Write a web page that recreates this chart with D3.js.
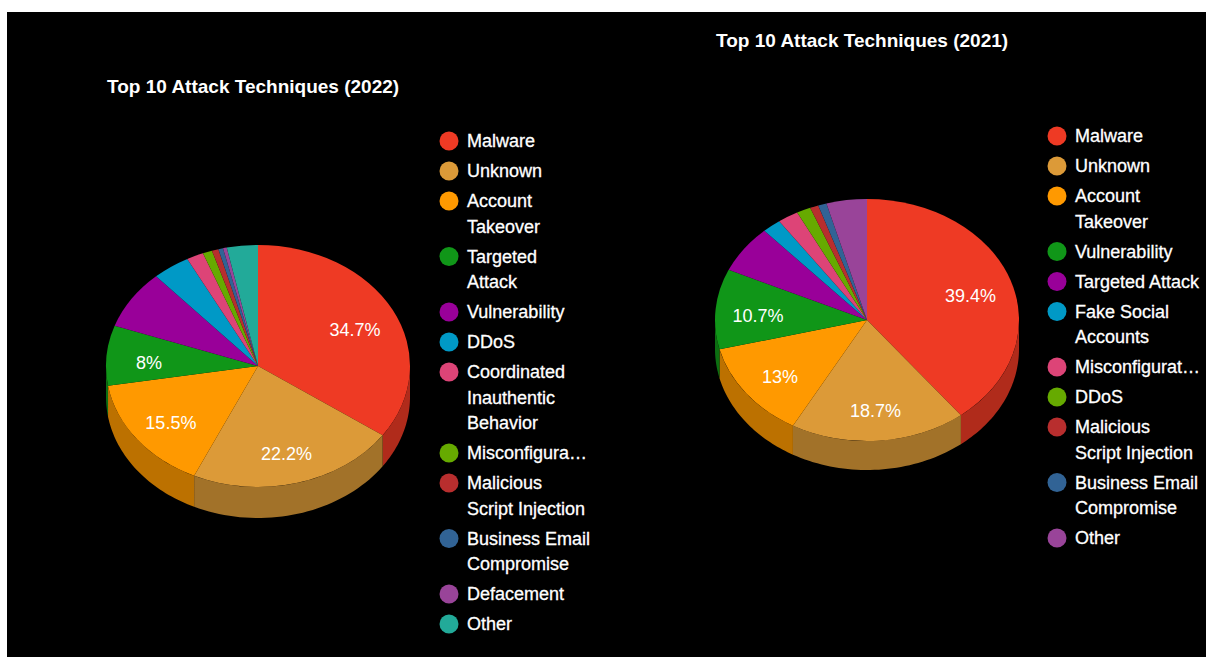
<!DOCTYPE html>
<html>
<head>
<meta charset="utf-8">
<script src="https://cdn.jsdelivr.net/npm/d3@7"></script>
<style>
  body { margin: 0; background: #fff; }
  svg { display: block; }
  text { font-family: "Liberation Sans", Arial, sans-serif; }
</style>
</head>
<body>
<div id="chart"></div>
<script>
// 2022 data
var cats2022 = ["Malware", "Unknown", "Account Takeover", "Targeted Attack", "Vulnerability", "DDoS",
  "Coordinated Inauthentic Behavior", "Misconfiguration", "Malicious Script Injection",
  "Business Email Compromise", "Defacement", "Other"];
var vals2022 = [34.7, 22.2, 15.5, 8, 7.9, 4.0, 1.8, 1.0, 0.7, 0.5, 0.4, 3.3];
var legend2022 = [["Malware"], ["Unknown"], ["Account", "Takeover"], ["Targeted", "Attack"], ["Vulnerability"],
  ["DDoS"], ["Coordinated", "Inauthentic", "Behavior"], ["Misconfigura\u2026"], ["Malicious", "Script Injection"],
  ["Business Email", "Compromise"], ["Defacement"], ["Other"]];
var colors2022 = ["#ee3a24", "#dc9a38", "#ff9900", "#109618", "#990099", "#0099c6", "#dd4477",
  "#66aa00", "#b82e2e", "#316395", "#994499", "#22aa99"];

// 2021 data
var cats2021 = ["Malware", "Unknown", "Account Takeover", "Vulnerability", "Targeted Attack",
  "Fake Social Accounts", "Misconfiguration", "DDoS", "Malicious Script Injection",
  "Business Email Compromise", "Other"];
var vals2021 = [39.4, 18.7, 13, 10.7, 6.4, 2.0, 2.2, 1.5, 0.9, 0.9, 4.3];
var legend2021 = [["Malware"], ["Unknown"], ["Account", "Takeover"], ["Vulnerability"], ["Targeted Attack"],
  ["Fake Social", "Accounts"], ["Misconfigurat\u2026"], ["DDoS"], ["Malicious", "Script Injection"],
  ["Business Email", "Compromise"], ["Other"]];
var colors2021 = ["#ee3a24", "#dc9a38", "#ff9900", "#109618", "#990099", "#0099c6", "#dd4477",
  "#66aa00", "#b82e2e", "#316395", "#994499"];

var W = 1206, H = 657;
var svg = d3.select("#chart").append("svg").attr("width", W).attr("height", H);

// black panel with white strip at top / left
svg.append("rect").attr("x", 7).attr("y", 12).attr("width", W - 7).attr("height", H - 12).attr("fill", "#000");

function drawPie(cfg) {
  var g = svg.append("g");
  var cx = cfg.cx, cy = cfg.cy, rx = cfg.rx, ry = cfg.ry, depth = cfg.depth;
  var data = cfg.cats.map(function (c, i) { return { name: c, value: cfg.vals[i], color: cfg.colors[i] }; });
  var arcs = d3.pie().sort(null).value(function (d) { return d.value; })(data);

  var px = function (a) { return cx + rx * Math.sin(a); };
  var py = function (a) { return cy - ry * Math.cos(a); };

  // side walls (front half only: pi/2 .. 3pi/2)
  arcs.forEach(function (a) {
    var a0 = Math.max(a.startAngle, Math.PI / 2), a1 = Math.min(a.endAngle, 3 * Math.PI / 2);
    if (a1 <= a0) return;
    var p = d3.path();
    p.moveTo(px(a0), py(a0));
    var n = 40;
    for (var k = 1; k <= n; k++) { var t = a0 + (a1 - a0) * k / n; p.lineTo(px(t), py(t)); }
    for (var k = n; k >= 0; k--) { var t = a0 + (a1 - a0) * k / n; p.lineTo(px(t), py(t) + depth); }
    p.closePath();
    g.append("path").attr("d", p.toString())
      .attr("fill", d3.color(a.data.color).darker(0.85));
  });

  // top faces
  var arc = d3.arc().innerRadius(0).outerRadius(rx);
  g.append("g")
    .attr("transform", "translate(" + cx + "," + cy + ") scale(1," + (ry / rx) + ")")
    .selectAll("path").data(arcs).enter().append("path")
    .attr("d", arc)
    .attr("fill", function (d) { return d.data.color; });

  // slice labels (only slices big enough)
  g.selectAll("text.lbl").data(arcs.filter(function (d) { return d.data.value >= 8; }))
    .enter().append("text")
    .attr("class", "lbl")
    .attr("x", function (d) { var m = (d.startAngle + d.endAngle) / 2; return cx + rx * 0.72 * Math.sin(m); })
    .attr("y", function (d) { var m = (d.startAngle + d.endAngle) / 2; return cy - ry * 0.72 * Math.cos(m) + 4; })
    .attr("dy", "0.35em")
    .attr("text-anchor", "middle")
    .attr("font-size", "18px")
    .attr("fill", "#fff")
    .text(function (d) { return d.data.value + "%"; });

  // title
  svg.append("text")
    .attr("x", cfg.titleX).attr("y", cfg.titleY)
    .attr("font-size", "19px").attr("font-weight", "bold").attr("fill", "#fff")
    .text(cfg.title);

  // legend
  var y = cfg.legY;
  cfg.legend.forEach(function (lines, i) {
    svg.append("circle").attr("cx", cfg.legX).attr("cy", y).attr("r", 9.5).attr("fill", cfg.colors[i]);
    lines.forEach(function (line, j) {
      svg.append("text")
        .attr("x", cfg.legX + 18).attr("y", y + j * 25.5)
        .attr("dy", "0.35em")
        .attr("font-size", "18px").attr("fill", "#fff")
        .attr("stroke", "#fff").attr("stroke-width", 0.3)
        .text(line);
    });
    y += 30 + (lines.length - 1) * 25.5;
  });
}

drawPie({
  cats: cats2022, vals: vals2022, colors: colors2022, legend: legend2022,
  cx: 258, cy: 366, rx: 152, ry: 121, depth: 31,
  title: "Top 10 Attack Techniques (2022)", titleX: 107, titleY: 93,
  legX: 449, legY: 141
});

drawPie({
  cats: cats2021, vals: vals2021, colors: colors2021, legend: legend2021,
  cx: 867, cy: 320, rx: 152, ry: 121, depth: 29,
  title: "Top 10 Attack Techniques (2021)", titleX: 716, titleY: 47,
  legX: 1057, legY: 136
});
</script>
</body>
</html>
